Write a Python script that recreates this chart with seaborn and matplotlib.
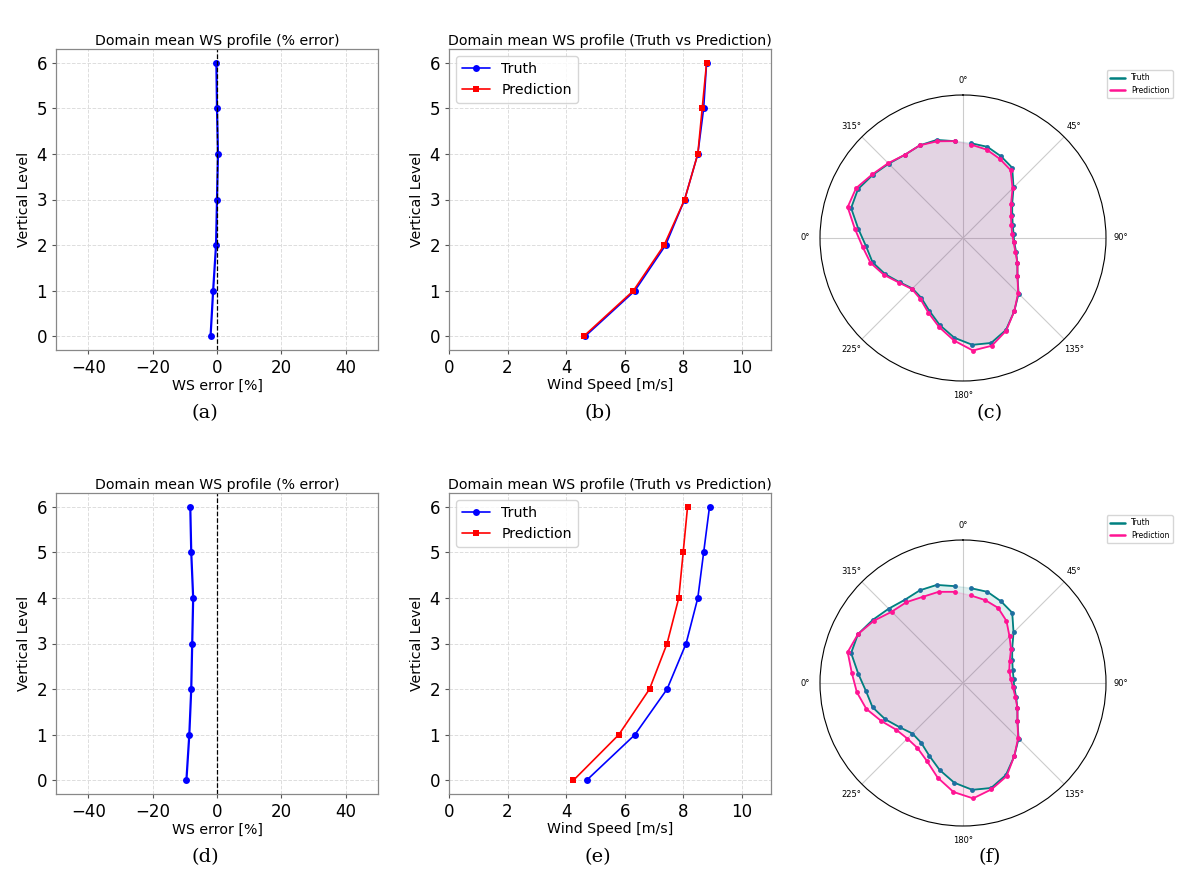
import matplotlib.pyplot as plt
import seaborn as sns
import pandas as pd
import numpy as np

levels = [0, 1, 2, 3, 4, 5, 6]

# row 1
err_a = [-2.0, -1.2, -0.3, 0.0, 0.3, 0.0, -0.2]
truth_b = [4.65, 6.35, 7.4, 8.05, 8.5, 8.7, 8.8]
pred_b = [4.6, 6.3, 7.35, 8.05, 8.5, 8.65, 8.8]
# row 2
err_d = [-9.5, -8.6, -8.0, -7.7, -7.4, -8.0, -8.3]
truth_e = [4.7, 6.35, 7.45, 8.1, 8.5, 8.7, 8.9]
pred_e = [4.25, 5.8, 6.85, 7.45, 7.85, 8.0, 8.15]

angles_deg = list(range(5, 360, 10))
truth_c = [0.665, 0.66, 0.63, 0.60, 0.50, 0.42, 0.38, 0.36, 0.355, 0.36, 0.385, 0.42,
           0.465, 0.55, 0.625, 0.71, 0.76, 0.75, 0.70, 0.63, 0.56, 0.51, 0.50, 0.54,
           0.60, 0.655, 0.68, 0.735, 0.81, 0.81, 0.77, 0.735, 0.71, 0.715, 0.71, 0.68]
pred_c = [0.655, 0.64, 0.61, 0.58, 0.49, 0.41, 0.37, 0.35, 0.345, 0.355, 0.38, 0.42,
          0.465, 0.545, 0.625, 0.715, 0.78, 0.79, 0.72, 0.645, 0.575, 0.52, 0.505, 0.545,
          0.61, 0.67, 0.705, 0.76, 0.835, 0.825, 0.775, 0.74, 0.71, 0.715, 0.70, 0.68]
truth_f = truth_c
pred_f = [0.615, 0.60, 0.58, 0.53, 0.46, 0.41, 0.36, 0.335, 0.335, 0.35, 0.38, 0.42,
          0.465, 0.545, 0.625, 0.72, 0.77, 0.81, 0.765, 0.685, 0.60, 0.555, 0.55, 0.57,
          0.63, 0.70, 0.745, 0.78, 0.835, 0.81, 0.76, 0.705, 0.69, 0.665, 0.66, 0.64]

sns.set_style("whitegrid")
plt.rcParams['font.family'] = ['DejaVu Sans']
plt.rcParams['text.color'] = 'black'
plt.rcParams['axes.labelcolor'] = 'black'
plt.rcParams['xtick.color'] = 'black'
plt.rcParams['ytick.color'] = 'black'
fig = plt.figure(figsize=(12.01, 8.83), dpi=100)
W, H = 1201, 883
FS = 10.2


def px_axes(x0, y0, x1, y1, **kw):
    return fig.add_axes([x0 / W, 1 - y1 / H, (x1 - x0) / W, (y1 - y0) / H], **kw)


def style_cart(ax):
    for s in ax.spines.values():
        s.set_color('#888888')
        s.set_linewidth(0.9)
    ax.grid(True, linestyle='--', color='#dddddd', linewidth=0.7)
    ax.tick_params(labelsize=12, length=3, color='#555555', left=True, bottom=True)
    ax.set_ylabel('Vertical Level', fontsize=FS)
    ax.set_ylim(-0.3, 6.3)
    ax.set_yticks(levels)


def err_panel(ax, err):
    sns.lineplot(x=err, y=levels, sort=False, orient='y', marker='o', color='blue',
                 markersize=5, markeredgewidth=0, linewidth=1.6, ax=ax)
    ax.axvline(0, color='black', linestyle='--', linewidth=0.9)
    ax.set_xlim(-50, 50)
    ax.set_xticks([-40, -20, 0, 20, 40])
    ax.set_title('Domain mean WS profile (% error)', fontsize=FS, pad=3)
    ax.set_xlabel('WS error [%]', fontsize=FS, labelpad=1)
    style_cart(ax)


def ws_panel(ax, tr, pr):
    sns.lineplot(x=tr, y=levels, sort=False, orient='y', marker='o', color='blue',
                 markersize=5, markeredgewidth=0, linewidth=1.2, ax=ax, label='Truth')
    sns.lineplot(x=pr, y=levels, sort=False, orient='y', marker='s', color='red',
                 markersize=5, markeredgewidth=0, linewidth=1.2, ax=ax, label='Prediction')
    ax.set_xlim(0, 11)
    ax.set_xticks([0, 2, 4, 6, 8, 10])
    ax.set_title('Domain mean WS profile (Truth vs Prediction)', fontsize=FS, pad=3)
    ax.set_xlabel('Wind Speed [m/s]', fontsize=FS, labelpad=1)
    ax.legend(loc='upper left', fontsize=FS, frameon=True, handlelength=2)
    style_cart(ax)


def polar_panel(ax, tr, pr):
    th = np.deg2rad(angles_deg)
    ax.set_theta_zero_location('N')
    ax.set_theta_direction(-1)
    ax.fill(th, tr, color='teal', alpha=0.12)
    ax.fill(th, pr, color='deeppink', alpha=0.12)
    ax.plot(th, tr, color='teal', linewidth=1.3, marker='o', markersize=3.5,
            markerfacecolor='#1f6fa0', markeredgewidth=0, label='Truth')
    ax.plot(th, pr, color='deeppink', linewidth=1.3, marker='o', markersize=3.5,
            markeredgewidth=0, label='Prediction')
    ax.set_ylim(0, 1)
    ax.set_yticks([])
    ax.set_xticks(np.deg2rad([0, 45, 90, 135, 180, 225, 270, 315]))
    ax.set_xticklabels(['0°', '45°', '90°', '135°', '180°', '225°', '0°', '315°'], fontsize=6)
    ax.tick_params(pad=0)
    ax.grid(True, color='#cccccc', linewidth=0.8)
    ax.spines['polar'].set_color('black')
    ax.spines['polar'].set_linewidth(0.8)
    leg = ax.legend(loc='upper left', bbox_to_anchor=(0.99, 1.1), fontsize=5.5, frameon=True)
    for ln in leg.get_lines():
        ln.set_marker('')
        ln.set_linewidth(1.8)


rows = [(49, 350, err_a, truth_b, pred_b, truth_c, pred_c, 'abc'),
        (493, 794, err_d, truth_e, pred_e, truth_f, pred_f, 'def')]
for top, bot, er, tr, pr, ptr, ppr, letters in rows:
    err_panel(px_axes(56, top, 378, bot), er)
    ws_panel(px_axes(449, top, 771, bot), tr, pr)
    cy = top + 189 if letters == 'abc' else top + 190
    polar_panel(px_axes(820, cy - 143, 1106, cy + 143, projection='polar'), ptr, ppr)
    cap_y = bot + 63
    for xc, l in zip([205, 598, 990], letters):
        fig.text(xc / W, 1 - cap_y / H, '(%s)' % l, ha='center', va='center',
                 fontsize=14, family='serif')

fig.savefig('out.png', dpi=100)
